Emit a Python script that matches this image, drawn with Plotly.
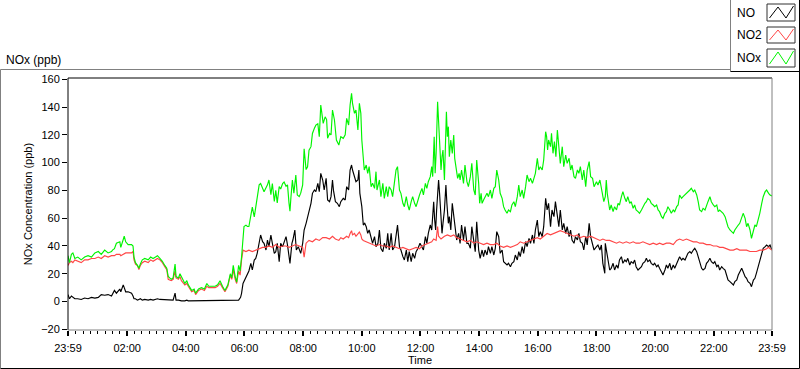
import plotly.graph_objects as go
import pandas as pd

# ---------------- data (minutes after 23:59, ppb) ----------------
START = "2020-01-01 23:59"
END = "2020-01-02 23:59"

NO_POINTS = [
    (0, 5), (3, 2), (7, 4), (10, 3), (14, 2), (20, 2), (27, 1.5), (34, 2.5), (41, 2), (48, 3),
    (55, 2.5), (62, 3), (68, 5), (75, 4.5), (82, 5), (89, 4), (95, 8), (99, 6), (106, 9), (108, 7),
    (113, 12), (115, 10), (118, 7), (123, 7), (130, 6), (133, 4), (135, 2), (138, 2), (142, 1), (145, 1.5),
    (148, 2), (152, 1), (157, 1.5), (164, 1), (169, 1.5), (174, 1), (179, 1.5), (183, 2), (188, 1.5), (193, 1.5),
    (198, 1), (202, 1.5), (205, 1), (211, 1), (215, 1), (219, 6), (221, 1), (226, 1), (229, 0.5), (232, 0.5),
    (239, 0.5), (243, 1), (246, 0.5), (253, 0.5), (258, 1), (261, 0.5), (267, 0.5), (273, 1), (279, 0.5), (284, 0.5),
    (288, 0.5), (294, 0.5), (301, 0.5), (306, 0.5), (311, 0.5), (316, 0.5), (321, 0.5), (327, 0.5), (332, 0.5), (335, 0.5),
    (338, 0.5), (342, 1), (345, 1), (349, 1),
    (353, 3), (355, 5.9), (358, 13), (362, 16), (364, 17.9), (367, 19), (370, 22), (374, 27.5), (377, 22.7), (381, 29.9),
    (384, 31), (387, 34.7), (391, 41.9), (394, 47.9), (398, 43.1), (401, 41.9), (405, 37.1), (408, 44.3), (411, 39.5), (415, 47.9),
    (418, 41.9), (422, 34.7), (425, 35.9), (428, 41.9), (432, 28.7), (435, 41.9), (439, 39.5), (442, 43.1), (446, 46.7), (449, 40.7),
    (452, 29.9), (454, 27.5), (458, 41.9), (460, 44.3), (464, 51.5), (467, 37.1), (471, 39.5), (476, 34.7), (480, 41.9), (483, 51.5),
    (487, 56.3), (490, 61.1), (493, 63.5), (497, 70.7), (500, 77.9), (504, 80.3), (507, 79.1), (511, 85.1), (514, 79.1), (517, 92.3),
    (521, 87.5), (524, 80.3), (528, 88.7), (531, 73.1), (535, 71.9), (538, 75.5), (541, 87.5), (543, 80), (547, 71.9), (551, 70.7),
    (555, 68.3), (558, 71.9), (563, 74.3), (567, 73.1), (570, 82.7), (574, 80.3), (577, 94.7), (580, 98.3), (582, 94.7), (586, 89.9),
    (589, 86.3), (593, 87.5), (595, 94.7), (597, 77.9), (601, 68.3), (604, 55.1), (607, 56.3), (610, 53.9), (613, 49.1), (616, 51.5),
    (620, 46.7), (623, 41.9), (627, 46.7), (630, 39.5), (634, 41.9), (637, 51.5), (640, 38.3), (644, 35.9), (647, 41.9), (651, 38.3),
    (654, 49.1), (657, 37.1), (661, 49.1), (664, 37.1), (668, 39.5), (671, 46.7), (674, 55.1), (678, 39.5), (681, 37.1), (685, 32.3),
    (688, 29.9), (692, 37.1), (695, 28.7), (698, 35.9), (702, 28.7), (705, 34.7), (709, 31.1), (712, 35.9), (716, 38.3),
    (720, 41.9), (724, 38.3), (727, 37.1), (731, 46.7), (734, 41.9), (737, 49.1), (741, 55.1), (744, 51.5), (748, 71.9), (750, 58.7),
    (752, 51.5), (754, 65.9), (758, 87.5), (760, 77.9), (763, 58.7), (765, 49.1), (767, 56.3), (770, 65.9), (772, 77.9), (773, 83.9),
    (775, 70.7), (778, 56.3), (780, 61.1), (783, 51.5), (786, 70.7), (789, 61.1), (792, 53.9), (795, 44.3), (799, 49.1), (802, 41.9),
    (805, 55.1), (809, 44.3), (812, 53.9), (816, 41.9), (819, 41.9), (823, 38.3), (826, 53.9), (830, 41.9), (833, 35.9), (836, 57.5),
    (840, 37.1), (843, 31.1), (847, 37.1), (850, 32.3), (853, 37.1), (857, 33.5), (860, 39.5), (864, 34.7), (867, 39.5), (871, 33.5),
    (874, 38.3), (877, 50.3), (881, 46.7), (884, 34.7), (888, 37.1), (891, 28.7), (894, 27.5), (898, 26.3), (901, 27.5), (905, 25.1),
    (908, 27.5), (912, 28.7), (915, 33.5), (919, 29.9), (922, 35.9), (925, 32.3), (929, 39.5), (932, 34.7), (936, 43.1), (939, 39.5),
    (943, 45.5), (946, 41.9), (950, 47.9), (953, 41.9), (956, 51.5), (960, 58.7), (963, 46.7), (966, 50.3), (970, 46.7), (973, 53.9),
    (977, 74.3), (980, 65.9), (983, 70.7), (987, 53.9), (990, 65.9), (994, 61.1), (997, 71.9), (1001, 58.7), (1004, 53.9), (1007, 65.9),
    (1011, 51.5), (1014, 56.3), (1018, 49.1), (1021, 53.9), (1025, 46.7), (1028, 51.5), (1031, 44.3), (1035, 41.9), (1038, 46.7), (1042, 44.3),
    (1045, 49.1), (1048, 43.1), (1052, 41.9), (1055, 37.1), (1059, 46.7), (1062, 40.7), (1066, 56.3), (1069, 46.7), (1073, 41.9), (1076, 37.1),
    (1081, 39.5), (1084, 40.7), (1088, 37.1), (1091, 40.7), (1094, 27.5), (1098, 20.3), (1099, 41.9), (1103, 32.3), (1106, 23.9), (1108, 22.7),
    (1111, 23.9), (1115, 27.5), (1118, 22.7), (1122, 26.3), (1125, 23.9), (1128, 29.9), (1132, 32.3), (1135, 27.5), (1139, 29.9), (1142, 28.7),
    (1145, 31.1), (1149, 26.3), (1152, 28.7), (1156, 27.5), (1159, 29.9), (1162, 25.1), (1166, 22.7), (1169, 23.9), (1173, 25.1), (1176, 27.5),
    (1180, 28.7), (1183, 31.1), (1186, 28.7), (1190, 29.9), (1193, 27.5), (1197, 26.3), (1200, 27.5), (1204, 25.1), (1207, 26.3), (1210, 23.9),
    (1214, 21.5), (1217, 19.1), (1221, 22.7), (1224, 26.3), (1227, 23.9), (1231, 27.5), (1234, 22.7), (1238, 26.3), (1241, 23.9), (1245, 27.5),
    (1248, 29.9), (1251, 32.3), (1255, 29.9), (1258, 31.1), (1262, 29.9), (1265, 32.3), (1268, 34.7), (1272, 35.9), (1275, 34.7), (1279, 37.1),
    (1282, 38.3), (1286, 35.9), (1289, 32.3), (1292, 28.7), (1296, 23.9), (1299, 22.7), (1303, 23.9), (1306, 27.5), (1309, 28.7), (1313, 31.1),
    (1316, 28.7), (1320, 27.5), (1323, 28.7), (1327, 25.1), (1330, 26.3), (1333, 22.7), (1337, 25.1), (1340, 23.9), (1344, 22.7), (1347, 19.1),
    (1350, 15.5), (1354, 14.3), (1357, 13.1), (1361, 11.9), (1364, 14.3), (1368, 15.5), (1371, 19.1), (1374, 21.5), (1378, 23.9), (1381, 21.5),
    (1385, 17.9), (1388, 16.7), (1391, 14.3), (1395, 13.1), (1398, 10.7), (1402, 15.5), (1405, 16.7), (1408, 20.3), (1412, 25.1), (1415, 29.9),
    (1419, 34.7), (1422, 38.3), (1426, 39.5), (1429, 40.7), (1433, 39.5), (1436, 40.7), (1440, 37.1),
]

NO2_POINTS = [
    (0, 26), (3, 28), (7, 29), (10, 28), (14, 30), (20, 29), (27, 28), (34, 30), (41, 30), (48, 31),
    (55, 31), (62, 32), (68, 31), (75, 33), (82, 32), (89, 33), (95, 33), (99, 34), (106, 34), (108, 33),
    (113, 34), (115, 35), (118, 35), (123, 35), (130, 35), (133, 36), (135, 30), (138, 27), (142, 26), (145, 23),
    (148, 26), (152, 28), (157, 29), (164, 28), (169, 30), (174, 29), (179, 30), (183, 31), (188, 30), (193, 28),
    (198, 25), (202, 23), (205, 16), (211, 15), (215, 16), (219, 22), (221, 17), (226, 16), (229, 18), (232, 15),
    (239, 12), (243, 13), (246, 11), (253, 7), (258, 8), (261, 5), (267, 8), (273, 9), (279, 8), (284, 11),
    (288, 10), (294, 10), (301, 10), (306, 11), (311, 13), (316, 10), (321, 7), (327, 11), (332, 19), (335, 16),
    (338, 23), (342, 16), (345, 13), (349, 22), (352, 19),
    (355, 30), (358, 37), (364, 36), (370, 37), (377, 36), (384, 37), (391, 38), (398, 39), (405, 39), (411, 40),
    (418, 39), (425, 41), (432, 39), (439, 40), (446, 40), (452, 39), (459, 40), (466, 41), (473, 40), (480, 39),
    (483, 32), (485, 40), (487, 42), (493, 44), (500, 43), (507, 45), (514, 44), (521, 46), (528, 46), (535, 45),
    (541, 47), (547, 45), (554, 44), (558, 46), (563, 45), (570, 47), (574, 46), (577, 49), (580, 51), (582, 48),
    (586, 49), (589, 47), (593, 49), (596, 50), (599, 48), (601, 45), (604, 44), (610, 43), (616, 42), (623, 41),
    (630, 40), (637, 41), (644, 40), (651, 40), (657, 39), (664, 40), (671, 39), (678, 38), (685, 39), (692, 38),
    (698, 37), (705, 38), (712, 39), (719, 38),
    (724, 40), (731, 41), (737, 42), (744, 43), (748, 45), (753, 44), (756, 54), (758, 47), (763, 45), (770, 47),
    (776, 48), (783, 47), (789, 48), (795, 46), (802, 45), (809, 44), (816, 43), (823, 44), (830, 42), (836, 43),
    (843, 42), (850, 41), (857, 42), (864, 41), (871, 41), (877, 42), (884, 40), (891, 39), (898, 40), (905, 39),
    (912, 40), (919, 41), (925, 43), (932, 42), (939, 43), (946, 44), (953, 45), (960, 46), (966, 45), (973, 47),
    (980, 49), (987, 48), (994, 49), (1001, 50), (1007, 51), (1014, 50), (1021, 49), (1028, 48), (1035, 47), (1042, 48),
    (1048, 46), (1055, 47), (1062, 46), (1069, 47), (1076, 46),
    (1081, 45), (1088, 44), (1094, 45), (1101, 44), (1108, 44), (1115, 43), (1122, 42), (1128, 43), (1135, 42), (1142, 43),
    (1149, 42), (1156, 43), (1162, 42), (1169, 42), (1176, 43), (1183, 42), (1190, 41), (1197, 42), (1204, 41), (1210, 42),
    (1217, 41), (1224, 42), (1231, 42), (1238, 41), (1245, 44), (1251, 45), (1258, 44), (1265, 45), (1272, 44), (1279, 43),
    (1286, 43), (1292, 42), (1299, 42), (1306, 41), (1313, 41), (1320, 40), (1327, 40), (1333, 39), (1340, 39), (1347, 38),
    (1354, 37), (1361, 37), (1368, 38), (1374, 37), (1381, 37), (1388, 37), (1395, 36), (1402, 36), (1408, 36), (1415, 37),
    (1422, 37), (1429, 38), (1433, 39), (1436, 38), (1440, 37),
]

NOX_POINTS = [
    (0, 33), (3, 28), (7, 34), (10, 35), (14, 31), (20, 32), (27, 30), (34, 32), (41, 33), (48, 32),
    (55, 35), (62, 36), (68, 34), (75, 37), (82, 35), (89, 36), (91, 37), (95, 38), (99, 42), (106, 43),
    (108, 39), (113, 46), (115, 47), (118, 43), (123, 41), (130, 41), (133, 40), (135, 32), (138, 28), (142, 26),
    (145, 24), (148, 27), (152, 30), (157, 31), (164, 30), (169, 32), (174, 31), (179, 32), (183, 33), (188, 31),
    (193, 29), (198, 26), (202, 24), (205, 18), (211, 16), (215, 17), (219, 27), (221, 18), (226, 17), (229, 20),
    (232, 18), (239, 13), (243, 15), (246, 12), (253, 8), (258, 9), (261, 6), (267, 9), (273, 10), (279, 9),
    (284, 13), (288, 11), (294, 11), (301, 11), (306, 12), (311, 15), (316, 11), (321, 8), (327, 12), (332, 20),
    (335, 17), (338, 26), (342, 18), (345, 14), (349, 26), (352, 22),
    (355, 32), (358, 47), (360, 54), (364, 55), (367, 54), (370, 54), (374, 61), (377, 68), (381, 61), (384, 68),
    (387, 72), (391, 84), (394, 85), (398, 81), (401, 79), (405, 82), (408, 84), (411, 87.5), (415, 77), (418, 85),
    (422, 72), (425, 80), (428, 71), (432, 82.7), (435, 81), (439, 85), (442, 86), (446, 83), (449, 84), (452, 71),
    (454, 65), (456, 75), (459, 87.5), (462, 78), (466, 91), (469, 76.7), (473, 75.5), (476, 78), (480, 84), (483, 110),
    (487, 95), (490, 97), (493, 109), (497, 111.5), (500, 121), (504, 124.7), (507, 127), (511, 128), (514, 118.7), (517, 141.5),
    (519, 135.5), (522, 128.3), (526, 133), (529, 131), (531, 117.5), (535, 121), (538, 120), (541, 137.9), (545, 130.7), (547, 120),
    (549, 116.3), (554, 112.7), (558, 118.7), (563, 117.5), (567, 120), (570, 131.9), (574, 127.1), (577, 141.5), (580, 149.9), (582, 142.7),
    (586, 135.5), (589, 137.9), (593, 123.5), (596, 142.7), (599, 135.5), (601, 116.3), (604, 99.5), (606, 94.7), (610, 98.3), (613, 92.3),
    (616, 97.1), (620, 82.7), (623, 85.1), (627, 81.5), (630, 93.5), (632, 80.3), (637, 87.5), (640, 75.5), (644, 85.1), (647, 74.3),
    (651, 82.7), (654, 75.5), (657, 82.7), (661, 80.3), (664, 75.5), (671, 94.7), (674, 97.1), (678, 80.3), (681, 77.9), (685, 70.7),
    (688, 68.3), (692, 75.5), (695, 69.5), (698, 65.9), (702, 71.9), (705, 75.5), (709, 70.7), (712, 68.3), (719, 76.7),
    (724, 81.5), (727, 76.7), (731, 85.1), (734, 81.5), (737, 86.3), (741, 89.9), (744, 97.1), (746, 89.9), (749, 118.7), (751, 92.3),
    (753, 106.7), (756, 143.9), (758, 125.9), (760, 113.9), (763, 94.7), (765, 104.3), (767, 109.1), (770, 87.5), (772, 127.1), (774, 136.7),
    (776, 118.7), (778, 125.9), (780, 104.3), (783, 116.3), (786, 106.7), (789, 119.9), (791, 103.1), (794, 97.1), (797, 88.7), (800, 92.3),
    (802, 87.5), (805, 94.7), (809, 85.1), (812, 98.3), (816, 86.3), (819, 82.7), (823, 89.9), (826, 99.5), (830, 80.3), (833, 76.7),
    (836, 101.9), (840, 85.1), (842, 70.7), (845, 77.9), (847, 70.7), (850, 73.1), (853, 75.5), (857, 77.9), (860, 75.5), (864, 80.3),
    (867, 74.3), (871, 81.5), (874, 82.7), (877, 94.7), (881, 87.5), (884, 77.9), (888, 74.3), (891, 68.3), (894, 65.9), (898, 63.5),
    (901, 65.9), (905, 64.7), (908, 69.5), (912, 71.9), (915, 68.3), (919, 75.5), (922, 83.9), (925, 75.5), (929, 80.3), (932, 74.3),
    (936, 82.7), (939, 91.1), (943, 86.3), (946, 88.7), (950, 85.1), (953, 89.9), (956, 92.3), (960, 103.1), (963, 94.7), (966, 97.1),
    (970, 94.7), (973, 101.9), (977, 122.3), (979, 118.7), (981, 109.1), (983, 116.3), (987, 111.5), (989, 121.1), (992, 106.7), (995, 115.1),
    (998, 104.3), (1001, 123.5), (1004, 109.1), (1007, 99.5), (1011, 111.5), (1014, 97.1), (1018, 105.5), (1021, 99.5), (1025, 103.1), (1028, 94.7),
    (1031, 98.3), (1035, 89.9), (1038, 88.7), (1042, 94.7), (1045, 92.3), (1048, 97.1), (1052, 87.5), (1055, 94.7), (1059, 82.7), (1062, 94.7),
    (1066, 100.7), (1069, 89.9), (1073, 88.7), (1076, 82.7),
    (1081, 86.3), (1084, 83.9), (1088, 87.5), (1091, 80.3), (1094, 74.3), (1096, 71.9), (1099, 75.5), (1101, 87.5), (1103, 77.9), (1106, 70.7),
    (1108, 65.9), (1111, 69.5), (1115, 64.7), (1118, 68.3), (1122, 65.9), (1125, 70.7), (1128, 69.5), (1132, 75.5), (1135, 79.1), (1139, 74.3),
    (1142, 71.9), (1145, 75.5), (1149, 70.7), (1152, 71.9), (1156, 67.1), (1159, 69.5), (1162, 65.9), (1166, 64.7), (1169, 63.5), (1173, 65.9),
    (1176, 68.3), (1180, 70.7), (1183, 71.9), (1186, 74.3), (1190, 73.1), (1193, 70.7), (1197, 69.5), (1200, 68.3), (1204, 69.5), (1207, 65.9),
    (1210, 64.7), (1214, 61.1), (1217, 59.9), (1221, 63.5), (1224, 64.7), (1227, 68.3), (1231, 65.9), (1234, 63.5), (1238, 65.9), (1241, 64.7),
    (1245, 68.3), (1248, 69.5), (1251, 76.7), (1255, 74.3), (1258, 75.5), (1262, 76.7), (1265, 77.9), (1268, 79.1), (1272, 80.3), (1275, 81.5),
    (1279, 79.1), (1282, 80.3), (1286, 76.7), (1289, 71.9), (1292, 65.9), (1296, 64.7), (1299, 67.1), (1303, 65.9), (1306, 69.5), (1309, 71.9),
    (1313, 75.5), (1316, 71.9), (1320, 69.5), (1323, 68.3), (1327, 69.5), (1330, 64.7), (1333, 65.9), (1337, 64.7), (1340, 63.5), (1344, 61.1),
    (1347, 57.5), (1350, 53.9), (1354, 51.5), (1357, 50.3), (1361, 49.1), (1364, 51.5), (1368, 53.9), (1371, 55.1), (1374, 56.3), (1378, 59.9),
    (1381, 63.5), (1385, 59.9), (1388, 53.9), (1391, 56.3), (1395, 51.5), (1398, 45.5), (1402, 51.5), (1405, 55.1), (1408, 53.9), (1412, 58.7),
    (1415, 63.5), (1419, 70.7), (1422, 75.5), (1426, 79.1), (1429, 80.3), (1433, 77.9), (1436, 76.7), (1440, 76),
]

SERIES_NAMES = ["NO", "NO2", "NOx"]
SERIES_COLORS = ["#000000", "#ff4646", "#00f400"]

Y_TICKS = [-20, 0, 20, 40, 60, 80, 100, 120, 140, 160]
X_TICK_TIMES = ["2020-01-01 23:59", "2020-01-02 02:00", "2020-01-02 04:00", "2020-01-02 06:00",
                "2020-01-02 08:00", "2020-01-02 10:00", "2020-01-02 12:00", "2020-01-02 14:00",
                "2020-01-02 16:00", "2020-01-02 18:00", "2020-01-02 20:00", "2020-01-02 22:00",
                "2020-01-02 23:59"]
X_TICK_TEXT = ["23:59", "02:00", "04:00", "06:00", "08:00", "10:00", "12:00",
               "14:00", "16:00", "18:00", "20:00", "22:00", "23:59"]

# ---------------- figure ----------------
W, H = 800, 369
ML, MR, MT, MB = 68, 28, 78, 39
PW, PH = W - ML - MR, H - MT - MB
FONT = "Liberation Sans, Arial, sans-serif"


def px(x):
    return (x - ML) / PW


def py(y):
    return (H - MB - y) / PH


def to_xy(points):
    t0 = pd.Timestamp(START)
    xs = [t0 + pd.Timedelta(minutes=m) for m, _ in points]
    ys = [v for _, v in points]
    return xs, ys


fig = go.Figure()
for name, color, pts in zip(SERIES_NAMES, SERIES_COLORS, [NO_POINTS, NO2_POINTS, NOX_POINTS]):
    xs, ys = to_xy(pts)
    fig.add_trace(go.Scatter(x=xs, y=ys, mode="lines", name=name,
                             line=dict(color=color, width=1.15), showlegend=False))

shapes = []
def line(x0, y0, x1, y1, color, width=1):
    shapes.append(dict(type="line", xref="paper", yref="paper",
                       x0=px(x0), y0=py(y0), x1=px(x1), y1=py(y1),
                       line=dict(color=color, width=width)))

# plot frame
line(ML, MT, W - MR, MT, "#000000")
line(ML, MT, ML, H - MB, "#000000")
line(W - MR, MT, W - MR, H - MB, "#808080")
line(ML, H - MB, W - MR, H - MB, "#808080")
# outer panel frame
line(0.5, 69.5, 730.5, 69.5, "#808080")
line(0.5, 69.5, 0.5, 368.5, "#808080")
line(0.5, 368.5, 799.5, 368.5, "#000000")
line(799.5, 69.5, 799.5, 368.5, "#000000")
# legend box
line(730.5, 0, 730.5, 71.5, "#808080")
line(730.5, 71.5, 799.5, 71.5, "#000000")
line(799.5, 0, 799.5, 71.5, "#000000")

annotations = [
    dict(text="NOx (ppb)", xref="paper", yref="paper", x=px(4), y=py(59.5),
         xanchor="left", yanchor="middle", showarrow=False,
         font=dict(family=FONT, size=12, color="#000000")),
]
legend_rows = [(4, 21), (27, 43), (49, 67)]
for (top, bot), name, color in zip(legend_rows, SERIES_NAMES, SERIES_COLORS):
    shapes.append(dict(type="rect", xref="paper", yref="paper",
                       x0=px(767), x1=px(795), y0=py(bot), y1=py(top),
                       line=dict(color="#303030", width=1), fillcolor="white"))
    path = "M {} {} L {} {} L {} {} L {} {}".format(
        px(769.5), py(bot - 3), px(778), py(top + 3), px(786), py(bot - 3), px(793.5), py(top + 2))
    shapes.append(dict(type="path", xref="paper", yref="paper", path=path,
                       line=dict(color=color, width=1)))
    annotations.append(dict(text=name, xref="paper", yref="paper", x=px(735), y=py((top + bot) / 2),
                            xanchor="left", yanchor="middle", showarrow=False,
                            font=dict(family=FONT, size=12, color="#000000")))

fig.update_layout(
    width=W, height=H,
    margin=dict(l=ML, r=MR, t=MT, b=MB, pad=0, autoexpand=False),
    paper_bgcolor="white", plot_bgcolor="white",
    font=dict(family=FONT, size=11, color="#000000"),
    shapes=shapes, annotations=annotations,
    showlegend=False,
    xaxis=dict(
        type="date", range=[START, END], automargin=False,
        tickmode="array", tickvals=X_TICK_TIMES, ticktext=X_TICK_TEXT,
        ticks="outside", ticklen=5, tickwidth=2, tickcolor="#000000",
        ticklabelstandoff=3,
        minor=dict(ticks="outside", ticklen=3, tickwidth=1, tickcolor="#000000",
                   dtick=15 * 60 * 1000, tick0="2020-01-02 00:00"),
        showgrid=False, zeroline=False, showline=False,
        tickfont=dict(family=FONT, size=11, color="#000000"),
        title=dict(text="Time", standoff=3, font=dict(family=FONT, size=11, color="#000000")),
    ),
    yaxis=dict(
        range=[-20.5, 160.94], automargin=False,
        tickmode="array", tickvals=Y_TICKS,
        ticks="outside", ticklen=5, tickwidth=1, tickcolor="#000000",
        showgrid=False, zeroline=False, showline=False,
        tickfont=dict(family=FONT, size=11, color="#000000"),
        title=dict(text="NOx Concentration (ppb)", standoff=6,
                   font=dict(family=FONT, size=11, color="#000000")),
    ),
)

fig.write_html("out.html", config={"displayModeBar": False, "staticPlot": True},
               post_script="document.body.style.margin='0';document.body.style.overflow='hidden';")
